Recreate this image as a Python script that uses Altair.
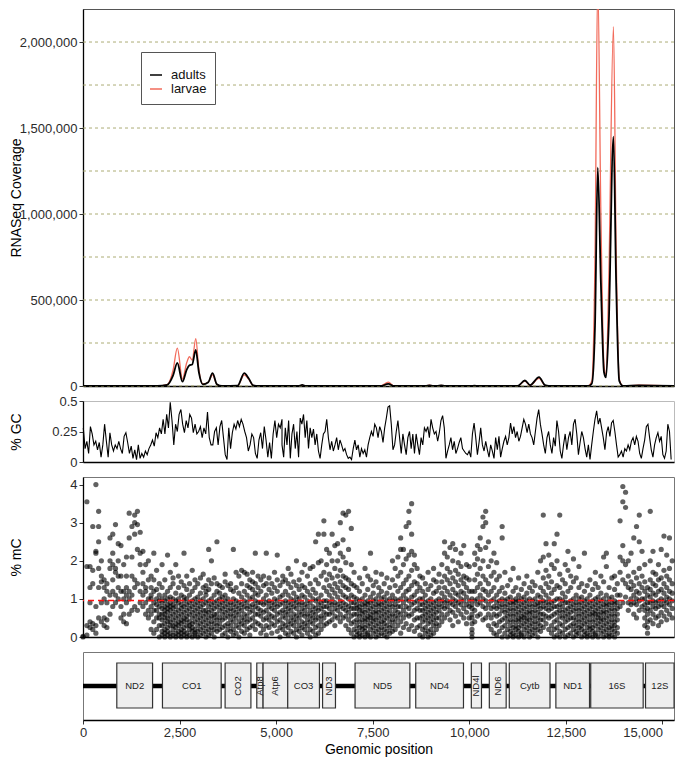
import altair as alt
import pandas as pd

FONT = "Liberation Sans"
GENOME_LEN = 15300
W = 591

# ---------------- RNASeq coverage ----------------
cov_pos = [0, 1925, 2180, 2330, 2442, 2574, 2685, 2756, 2827, 2919, 3000, 3101, 3243, 3354,
           3466, 3598, 4003, 4175, 4287, 4408, 4560, 5574, 5675, 5776, 7702, 7905, 8057,
           8867, 8969, 9070, 9171, 9273, 9375, 10034, 10134, 10234, 11249, 11441, 11573,
           11806, 11958, 12060, 13073, 13174, 13255, 13326, 13407, 13488, 13539, 13610,
           13732, 13802, 13883, 13985, 14390, 15300]
cov_adults = [0, 0, 6000, 60000, 135000, 25000, 95000, 120000, 125000, 210000, 80000, 10000,
              22000, 75000, 10000, 0, 2000, 75000, 45000, 3000, 0, 0, 6000, 0, 0, 12000, 0,
              0, 4000, 0, 0, 4000, 0, 0, 2000, 0, 0, 32000, 5000,
              52000, 5000, 0, 0, 15000, 350000, 1270000, 600000, 80000, 50000, 350000,
              1450000, 600000, 30000, 0, 3000, 0]
cov_larvae = [0, 0, 8000, 90000, 220000, 40000, 135000, 170000, 150000, 275000, 95000, 12000,
              22000, 65000, 9000, 0, 2000, 65000, 40000, 3000, 0, 0, 4000, 0, 0, 22000, 0,
              0, 5000, 0, 0, 3000, 0, 0, 2000, 0, 0, 28000, 4000,
              45000, 4000, 0, 0, 30000, 750000, 2350000, 1000000, 120000, 70000, 600000,
              2090000, 800000, 40000, 0, 5000, 0]
cov_grid = [0, 250000, 500000, 750000, 1000000, 1250000, 1500000, 1750000, 2000000]
cov_ticks = [0, 500000, 1000000, 1500000, 2000000]

# ---------------- % GC (three read-off segments) ----------------
gc_seg1_span = (8, 5152)
gc_seg1 = [0.28, 0.11, 0.17, 0.07, 0.29, 0.23, 0.14, 0.17, 0.10, 0.16, 0.04, 0.14, 0.31, 0.17,
           0.04, 0.24, 0.14, 0.09, 0.14, 0.11, 0.17, 0.11, 0.07, 0.21, 0.24, 0.16, 0.07, 0.13,
           0.03, 0.10, 0.02, 0.14, 0.03, 0.07, 0.04, 0.09, 0.06, 0.11, 0.14, 0.18, 0.13, 0.24,
           0.20, 0.28, 0.23, 0.35, 0.23, 0.39, 0.28, 0.49, 0.34, 0.14, 0.31, 0.25, 0.39, 0.43,
           0.31, 0.24, 0.34, 0.28, 0.39, 0.36, 0.24, 0.31, 0.23, 0.25, 0.29, 0.20, 0.28, 0.23,
           0.41, 0.20, 0.14, 0.14, 0.25, 0.28, 0.14, 0.29, 0.34, 0.20, 0.06, 0.02, 0.28, 0.11,
           0.24, 0.31, 0.27, 0.34, 0.29, 0.35, 0.31, 0.25, 0.20, 0.09, 0.14, 0.23, 0.20, 0.07,
           0.03, 0.18, 0.24, 0.11, 0.29, 0.18, 0.04, 0.16, 0.03, 0.23, 0.34, 0.20, 0.31, 0.28,
           0.35]
gc_seg2_span = (5152, 10296)
gc_seg2 = [0.14, 0.04, 0.28, 0.14, 0.34, 0.03, 0.23, 0.31, 0.11, 0.25, 0.04, 0.36, 0.31, 0.39,
           0.20, 0.34, 0.11, 0.28, 0.20, 0.27, 0.14, 0.23, 0.09, 0.03, 0.14, 0.23, 0.25, 0.35,
           0.20, 0.10, 0.17, 0.09, 0.14, 0.20, 0.10, 0.18, 0.14, 0.09, 0.11, 0.06, 0.03, 0.04,
           0.02, 0.11, 0.18, 0.10, 0.14, 0.04, 0.11, 0.07, 0.10, 0.04, 0.14, 0.20, 0.25, 0.21,
           0.31, 0.28, 0.20, 0.29, 0.25, 0.16, 0.28, 0.36, 0.45, 0.46, 0.31, 0.10, 0.14, 0.25,
           0.34, 0.20, 0.07, 0.23, 0.14, 0.06, 0.20, 0.25, 0.11, 0.23, 0.07, 0.23, 0.14, 0.06,
           0.20, 0.14, 0.28, 0.25, 0.29, 0.20, 0.35, 0.28, 0.23, 0.25, 0.17, 0.24, 0.34, 0.38,
           0.28, 0.03, 0.09, 0.14, 0.20, 0.10, 0.17, 0.07, 0.11, 0.16, 0.20, 0.11, 0.09, 0.07,
           0.06, 0.09, 0.04, 0.23, 0.32, 0.20, 0.06, 0.16, 0.28]
gc_seg3_span = (10340, 15226)
gc_seg3 = [0.14, 0.09, 0.17, 0.10, 0.04, 0.14, 0.09, 0.03, 0.20, 0.10, 0.21, 0.04, 0.11, 0.17,
           0.21, 0.14, 0.20, 0.32, 0.23, 0.29, 0.20, 0.25, 0.17, 0.21, 0.28, 0.35, 0.31, 0.24,
           0.31, 0.23, 0.20, 0.14, 0.25, 0.36, 0.43, 0.31, 0.23, 0.14, 0.07, 0.20, 0.25, 0.14,
           0.07, 0.20, 0.13, 0.34, 0.25, 0.09, 0.03, 0.14, 0.23, 0.10, 0.20, 0.25, 0.14, 0.31,
           0.35, 0.23, 0.06, 0.16, 0.25, 0.20, 0.11, 0.04, 0.14, 0.02, 0.14, 0.25, 0.35, 0.42,
           0.31, 0.36, 0.28, 0.20, 0.10, 0.24, 0.29, 0.21, 0.32, 0.34, 0.25, 0.14, 0.04, 0.06,
           0.09, 0.04, 0.11, 0.09, 0.14, 0.10, 0.17, 0.20, 0.14, 0.21, 0.17, 0.07, 0.03, 0.11,
           0.18, 0.29, 0.31, 0.20, 0.10, 0.04, 0.14, 0.20, 0.24, 0.17, 0.21, 0.06, 0.03, 0.09,
           0.31, 0.25, 0.02]

# ---------------- % mC (columns of CpG sites: position, values) ----------------
mc_cols = [
    (0, [0.0, 0.02]), (101, [0.05, 0.3, 1.85, 3.55]), (182, [0.25, 0.4, 0.9, 1.3, 1.85]),
    (253, [0.2, 0.35, 1.4, 2.9, 1.75]), (334, [0.1, 0.3, 0.8, 2.25, 2.2, 4.0]),
    (405, [0.5, 1.3, 1.8, 2.5, 3.3, 2.9]), (476, [0.4, 0.9, 1.45, 1.6, 2.0]),
    (547, [0.3, 0.5, 1.0, 1.3, 1.5]), (618, [0.25, 0.45, 0.9, 1.2, 1.4]),
    (699, [0.6, 1.1, 1.8, 2.0, 2.6]), (770, [0.8, 1.2, 1.5, 1.9, 2.2, 2.7]),
    (841, [0.9, 1.1, 1.7, 1.8, 2.95]), (912, [1.0, 1.3, 1.6, 2.45, 2.0]),
    (983, [0.5, 0.8, 1.2, 1.6, 2.4]), (1054, [0.4, 0.6, 1.0, 1.2, 1.9]),
    (1125, [0.35, 0.9, 1.1, 1.3, 1.6, 2.1]), (1196, [0.6, 1.0, 1.2, 2.6, 3.25]),
    (1267, [0.7, 1.1, 1.6, 2.9, 2.1]), (1338, [0.8, 1.3, 1.5, 3.0, 3.2, 2.7]),
    (1409, [0.7, 1.4, 2.3, 2.95, 3.3]), (1480, [0.9, 1.2, 1.9, 2.2, 2.75]),
    (1551, [0.8, 1.1, 1.4, 1.7, 2.25]), (1622, [0.6, 0.9, 1.2, 1.3, 1.9]),
    (1693, [0.5, 0.7, 1.0, 1.5, 2.0]), (1764, [0.2, 0.6, 0.8, 1.0, 1.1, 1.3, 1.6]),
    (1834, [0.1, 0.4, 0.7, 0.9, 1.2, 1.5, 2.2]), (1905, [0.2, 0.5, 0.7, 0.85, 1.0, 1.25, 1.75]),
    (1976, [0.0, 0.3, 0.5, 0.6, 0.8, 0.95, 1.1, 1.4]),
    (2047, [0.05, 0.15, 0.3, 0.45, 0.6, 0.75, 0.9, 1.0, 1.3, 1.9]),
    (2118, [0.0, 0.1, 0.2, 0.35, 0.5, 0.6, 0.7, 0.8, 0.95, 1.1, 1.5]),
    (2189, [0.05, 0.15, 0.25, 0.4, 0.5, 0.65, 0.75, 0.85, 1.0, 1.2, 2.15]),
    (2260, [0.0, 0.1, 0.3, 0.4, 0.55, 0.7, 0.8, 0.9, 1.05, 1.3, 1.7]),
    (2331, [0.05, 0.2, 0.3, 0.45, 0.6, 0.75, 0.85, 1.0, 1.4, 1.55]),
    (2402, [0.0, 0.1, 0.25, 0.35, 0.5, 0.65, 0.8, 0.95, 1.15, 1.9]),
    (2473, [0.05, 0.15, 0.3, 0.4, 0.55, 0.7, 0.9, 1.0, 1.3, 1.6]),
    (2544, [0.0, 0.1, 0.2, 0.35, 0.45, 0.6, 0.75, 0.85, 1.1, 1.45]),
    (2615, [0.05, 0.15, 0.25, 0.4, 0.5, 0.65, 0.8, 0.95, 1.05, 1.35, 2.2]),
    (2686, [0.0, 0.1, 0.3, 0.45, 0.55, 0.7, 0.85, 1.0, 1.25, 1.6]),
    (2757, [0.05, 0.2, 0.3, 0.4, 0.6, 0.75, 0.9, 1.1, 1.4]),
    (2828, [0.0, 0.15, 0.25, 0.35, 0.5, 0.65, 0.8, 0.95, 1.2, 1.75]),
    (2899, [0.05, 0.1, 0.2, 0.4, 0.55, 0.7, 0.85, 1.0, 1.3, 1.5]),
    (2970, [0.0, 0.15, 0.3, 0.45, 0.6, 0.75, 0.9, 1.05, 1.4]),
    (3041, [0.05, 0.2, 0.35, 0.5, 0.65, 0.8, 0.95, 1.15, 1.55]),
    (3112, [0.1, 0.25, 0.4, 0.55, 0.7, 0.85, 1.0, 1.3, 1.65]),
    (3183, [0.0, 0.15, 0.3, 0.45, 0.6, 0.7, 0.9, 1.1, 1.2, 1.35]),
    (3254, [0.05, 0.2, 0.35, 0.5, 0.65, 0.8, 0.95, 1.25, 1.5, 2.3]),
    (3325, [0.1, 0.25, 0.4, 0.55, 0.7, 0.85, 1.0, 1.4, 2.0]),
    (3396, [0.0, 0.2, 0.35, 0.5, 0.6, 0.75, 0.9, 1.1, 1.55]),
    (3467, [0.15, 0.3, 0.45, 0.6, 0.8, 0.95, 1.2, 1.4, 2.5]),
    (3538, [0.2, 0.35, 0.5, 0.7, 0.85, 1.0, 1.15, 1.35]),
    (3609, [0.05, 0.25, 0.45, 0.6, 0.75, 0.9, 1.05, 1.3]),
    (3680, [0.1, 0.3, 0.5, 0.65, 0.8, 0.95, 1.1, 1.45, 1.65]),
    (3751, [0.0, 0.2, 0.35, 0.55, 0.7, 0.85, 1.0, 1.35]),
    (3822, [0.15, 0.3, 0.45, 0.6, 0.75, 0.9, 1.25, 1.4]),
    (3893, [0.05, 0.2, 0.4, 0.55, 0.7, 0.85, 1.0, 1.2, 2.3]),
    (3964, [0.1, 0.3, 0.5, 0.65, 0.8, 0.95, 1.3, 1.7]),
    (4035, [0.0, 0.25, 0.4, 0.6, 0.75, 0.9, 1.15, 1.6]),
    (4106, [0.15, 0.35, 0.5, 0.7, 0.85, 1.05, 1.4, 1.75]),
    (4177, [0.1, 0.3, 0.45, 0.6, 0.8, 0.95, 1.2, 1.7]),
    (4248, [0.2, 0.4, 0.55, 0.75, 0.9, 1.1, 1.35, 1.65]),
    (4319, [0.05, 0.25, 0.45, 0.65, 0.8, 1.0, 1.3, 1.5]),
    (4390, [0.3, 0.5, 0.7, 0.85, 1.05, 1.25, 1.45, 1.7]),
    (4461, [0.2, 0.4, 0.6, 0.8, 0.95, 1.15, 1.4, 2.2]),
    (4532, [0.35, 0.6, 0.75, 0.9, 1.1, 1.3, 1.6]),
    (4603, [0.1, 0.3, 0.55, 0.7, 0.9, 1.2, 1.5]),
    (4674, [0.2, 0.45, 0.65, 0.85, 1.0, 1.35, 1.6]),
    (4745, [0.05, 0.3, 0.5, 0.7, 0.9, 1.1, 1.4, 2.2]),
    (4816, [0.25, 0.45, 0.6, 0.8, 0.95, 1.25, 1.55]),
    (4887, [0.1, 0.35, 0.55, 0.75, 0.9, 1.15, 1.4]),
    (4958, [0.3, 0.5, 0.7, 0.85, 1.0, 1.3, 1.7]),
    (5029, [0.15, 0.4, 0.6, 0.8, 0.95, 1.2, 1.5, 2.15]),
    (5100, [0.0, 0.25, 0.45, 0.65, 0.85, 1.05, 1.35]),
    (5171, [0.2, 0.35, 0.55, 0.7, 0.9, 1.1, 1.45, 1.6]),
    (5242, [0.1, 0.3, 0.5, 0.65, 0.8, 0.95, 1.2, 1.5]),
    (5313, [0.05, 0.25, 0.4, 0.6, 0.75, 0.9, 1.1, 1.4, 1.8]),
    (5384, [0.15, 0.35, 0.5, 0.7, 0.85, 1.0, 1.3, 1.65]),
    (5455, [0.1, 0.3, 0.45, 0.6, 0.8, 0.95, 1.15, 1.45]),
    (5526, [0.0, 0.2, 0.4, 0.55, 0.75, 0.9, 1.05, 1.35, 2.0]),
    (5597, [0.15, 0.3, 0.5, 0.65, 0.85, 1.0, 1.25, 1.5]),
    (5668, [0.05, 0.25, 0.4, 0.6, 0.75, 0.9, 1.1, 1.35, 1.7]),
    (5739, [0.2, 0.35, 0.55, 0.7, 0.85, 1.05, 1.3, 1.9]),
    (5810, [0.1, 0.3, 0.45, 0.6, 0.8, 0.95, 1.2, 1.6]),
    (5881, [0.0, 0.2, 0.4, 0.55, 0.7, 0.9, 1.1, 1.4, 1.8]),
    (5952, [0.15, 0.35, 0.5, 0.65, 0.8, 1.0, 1.25, 1.85]),
    (6023, [0.05, 0.25, 0.45, 0.6, 0.75, 0.95, 1.15, 1.5, 2.5]),
    (6094, [0.1, 0.3, 0.5, 0.7, 0.85, 1.0, 1.4, 1.95, 2.7]),
    (6165, [0.2, 0.4, 0.55, 0.75, 0.9, 1.1, 1.6, 2.0]),
    (6236, [0.3, 0.5, 0.65, 0.8, 0.95, 1.3, 1.7, 2.7, 3.05]),
    (6307, [0.35, 0.6, 0.8, 0.95, 1.2, 1.5, 1.9, 2.3]),
    (6378, [0.4, 0.6, 0.75, 0.9, 1.1, 1.35, 1.65, 2.2]),
    (6449, [0.45, 0.65, 0.85, 1.0, 1.25, 1.55, 2.0, 2.7]),
    (6520, [0.3, 0.55, 0.75, 0.9, 1.15, 1.4, 1.8, 2.4]),
    (6591, [0.5, 0.7, 0.85, 1.05, 1.3, 1.6, 2.0, 2.45]),
    (6662, [0.4, 0.6, 0.8, 0.95, 1.2, 1.45, 1.75, 2.2, 3.0]),
    (6733, [0.5, 0.75, 0.9, 1.1, 1.35, 1.6, 2.1, 2.55, 3.25]),
    (6804, [0.3, 0.55, 0.7, 0.85, 1.05, 1.3, 1.55, 1.95, 3.2]),
    (6875, [0.2, 0.45, 0.65, 0.8, 1.0, 1.25, 1.5, 2.3, 3.3]),
    (6946, [0.1, 0.35, 0.55, 0.75, 0.9, 1.1, 1.4, 1.9, 2.85]),
    (7017, [0.0, 0.2, 0.4, 0.6, 0.75, 0.9, 1.05, 1.35, 1.7]),
    (7088, [0.05, 0.15, 0.3, 0.45, 0.6, 0.75, 0.85, 1.0, 1.3]),
    (7159, [0.0, 0.1, 0.25, 0.4, 0.55, 0.7, 0.8, 0.95, 1.2, 1.55]),
    (7230, [0.05, 0.2, 0.3, 0.45, 0.6, 0.7, 0.85, 1.0, 1.4]),
    (7301, [0.0, 0.15, 0.25, 0.4, 0.5, 0.65, 0.8, 0.9, 1.1, 1.8]),
    (7372, [0.05, 0.1, 0.3, 0.45, 0.55, 0.7, 0.85, 0.95, 1.25, 1.6]),
    (7443, [0.0, 0.2, 0.35, 0.5, 0.6, 0.75, 0.9, 1.05, 1.5, 2.2]),
    (7514, [0.1, 0.25, 0.4, 0.5, 0.65, 0.8, 0.95, 1.15, 1.35]),
    (7585, [0.0, 0.15, 0.3, 0.45, 0.6, 0.7, 0.85, 1.0, 1.45, 1.7]),
    (7656, [0.05, 0.2, 0.35, 0.5, 0.65, 0.8, 0.9, 1.1, 1.3]),
    (7727, [0.1, 0.25, 0.4, 0.55, 0.7, 0.85, 1.0, 1.2, 1.65]),
    (7798, [0.05, 0.2, 0.35, 0.45, 0.6, 0.75, 0.9, 1.05, 1.4]),
    (7869, [0.0, 0.15, 0.3, 0.5, 0.65, 0.8, 0.95, 1.15, 1.55]),
    (7940, [0.1, 0.25, 0.4, 0.55, 0.7, 0.85, 1.0, 1.3]),
    (8011, [0.15, 0.3, 0.45, 0.6, 0.8, 0.95, 1.1, 1.5, 2.0]),
    (8082, [0.2, 0.4, 0.55, 0.7, 0.85, 1.0, 1.35, 1.8]),
    (8153, [0.3, 0.5, 0.65, 0.8, 0.95, 1.2, 1.6, 2.1]),
    (8224, [0.1, 0.4, 0.6, 0.8, 1.0, 1.3, 1.7, 2.3, 2.6]),
    (8295, [0.25, 0.5, 0.7, 0.9, 1.1, 1.4, 1.9, 2.3]),
    (8366, [0.35, 0.6, 0.8, 1.0, 1.2, 1.5, 2.05, 2.9]),
    (8437, [0.2, 0.55, 0.75, 0.95, 1.25, 1.6, 2.15, 3.0, 3.3]),
    (8508, [0.3, 0.6, 0.85, 1.05, 1.35, 1.75, 2.25, 2.7, 3.5]),
    (8579, [0.15, 0.45, 0.7, 0.9, 1.1, 1.45, 1.9, 2.15]),
    (8650, [0.25, 0.5, 0.75, 0.95, 1.2, 1.4, 1.8]),
    (8721, [0.05, 0.3, 0.5, 0.7, 0.85, 1.0, 1.3, 1.6]),
    (8792, [0.0, 0.2, 0.4, 0.55, 0.7, 0.85, 1.0, 1.2, 1.55]),
    (8863, [0.1, 0.25, 0.45, 0.6, 0.75, 0.9, 1.1, 1.4]),
    (8934, [0.0, 0.15, 0.35, 0.5, 0.65, 0.8, 0.95, 1.25, 1.7]),
    (9005, [0.05, 0.2, 0.4, 0.55, 0.7, 0.85, 1.0, 1.35]),
    (9076, [0.1, 0.3, 0.45, 0.6, 0.75, 0.9, 1.15, 1.5, 1.8]),
    (9147, [0.2, 0.35, 0.5, 0.65, 0.8, 0.95, 1.2, 1.45]),
    (9218, [0.3, 0.5, 0.7, 0.85, 1.0, 1.3, 1.65]),
    (9289, [0.4, 0.6, 0.8, 0.95, 1.15, 1.45, 1.9]),
    (9360, [0.5, 0.75, 0.9, 1.05, 1.3, 1.6, 2.2, 2.5]),
    (9431, [0.6, 0.8, 0.95, 1.2, 1.5, 1.8, 2.1]),
    (9502, [0.45, 0.7, 0.9, 1.1, 1.4, 1.7, 2.35]),
    (9573, [0.3, 0.65, 0.85, 1.0, 1.25, 1.55, 2.0, 2.45]),
    (9644, [0.55, 0.8, 0.95, 1.15, 1.45, 1.75, 2.3]),
    (9715, [0.4, 0.7, 0.9, 1.1, 1.35, 1.65, 1.95]),
    (9786, [0.6, 0.85, 1.0, 1.2, 1.5, 1.85, 2.2]),
    (9857, [0.5, 0.75, 0.95, 1.15, 1.4, 1.6, 2.4]),
    (9928, [0.35, 0.65, 0.85, 1.05, 1.3, 1.55, 1.9]),
    (9999, [0.5, 0.8, 0.95, 1.2, 1.5, 1.85]),
    (10070, [0.0, 0.1, 0.2, 0.35, 0.5, 0.6, 0.75, 0.85, 1.0, 1.2]),
    (10141, [0.4, 0.7, 0.95, 1.2, 1.5, 1.9, 2.2]),
    (10212, [0.55, 0.85, 1.0, 1.3, 1.65, 2.05, 2.4]),
    (10283, [0.6, 0.9, 1.1, 1.4, 1.8, 2.3, 2.6]),
    (10354, [0.45, 0.8, 1.0, 1.25, 1.6, 2.0, 2.9, 3.15]),
    (10425, [0.5, 0.75, 0.95, 1.2, 1.5, 2.35, 3.0, 3.3]),
    (10496, [0.3, 0.6, 0.85, 1.1, 1.4, 1.85, 2.5]),
    (10567, [0.2, 0.5, 0.75, 0.95, 1.2, 1.6, 2.0]),
    (10638, [0.1, 0.35, 0.6, 0.8, 1.0, 1.3, 1.7, 2.2]),
    (10709, [0.05, 0.3, 0.55, 0.75, 0.9, 1.1, 1.5, 1.95]),
    (10780, [0.15, 0.4, 0.6, 0.8, 0.95, 1.2, 1.6]),
    (10851, [0.0, 0.25, 0.45, 0.7, 0.85, 1.0, 1.3, 2.6, 2.9]),
    (10922, [0.1, 0.3, 0.5, 0.65, 0.8, 0.95, 1.15, 1.7]),
    (10993, [0.0, 0.2, 0.4, 0.55, 0.7, 0.85, 1.0, 1.35]),
    (11064, [0.05, 0.15, 0.3, 0.45, 0.6, 0.75, 0.9, 1.05, 1.5]),
    (11135, [0.0, 0.1, 0.25, 0.4, 0.55, 0.7, 0.85, 0.95, 1.2, 1.8]),
    (11206, [0.05, 0.2, 0.3, 0.45, 0.6, 0.75, 0.9, 1.0, 1.3]),
    (11277, [0.0, 0.15, 0.25, 0.4, 0.5, 0.65, 0.8, 0.95, 1.1, 1.55]),
    (11348, [0.05, 0.1, 0.3, 0.45, 0.55, 0.7, 0.85, 1.0, 1.25]),
    (11419, [0.0, 0.2, 0.35, 0.5, 0.6, 0.75, 0.9, 1.05, 1.4]),
    (11490, [0.1, 0.25, 0.4, 0.5, 0.65, 0.8, 0.95, 1.15, 1.6]),
    (11561, [0.0, 0.15, 0.3, 0.45, 0.6, 0.7, 0.85, 1.0, 1.3]),
    (11632, [0.05, 0.2, 0.35, 0.5, 0.65, 0.8, 0.95, 1.2, 1.45]),
    (11703, [0.1, 0.25, 0.4, 0.55, 0.7, 0.85, 1.0, 1.35]),
    (11774, [0.0, 0.2, 0.35, 0.5, 0.65, 0.8, 0.9, 1.1, 1.7]),
    (11845, [0.15, 0.3, 0.45, 0.6, 0.75, 0.9, 1.05, 1.3, 2.0]),
    (11916, [0.25, 0.45, 0.6, 0.8, 0.95, 1.2, 1.55, 2.1, 3.2]),
    (11987, [0.35, 0.55, 0.75, 0.9, 1.1, 1.4, 1.75, 2.45]),
    (12058, [0.2, 0.5, 0.7, 0.85, 1.0, 1.3, 1.6, 2.15]),
    (12129, [0.1, 0.3, 0.55, 0.75, 0.9, 1.15, 1.45, 1.9]),
    (12200, [0.0, 0.2, 0.4, 0.6, 0.8, 0.95, 1.25, 1.8, 2.45]),
    (12271, [0.05, 0.25, 0.45, 0.65, 0.8, 1.0, 1.35, 2.0, 2.7]),
    (12342, [0.0, 0.15, 0.35, 0.55, 0.7, 0.85, 1.0, 1.3, 1.65, 3.2]),
    (12413, [0.1, 0.3, 0.5, 0.65, 0.8, 0.95, 1.15, 1.5]),
    (12484, [0.0, 0.2, 0.4, 0.55, 0.7, 0.9, 1.05, 1.4, 1.9]),
    (12555, [0.05, 0.25, 0.45, 0.6, 0.75, 0.9, 1.2, 1.75, 2.25]),
    (12626, [0.1, 0.3, 0.5, 0.65, 0.8, 0.95, 1.3, 1.6]),
    (12697, [0.0, 0.2, 0.35, 0.5, 0.7, 0.85, 1.0, 1.45, 2.05]),
    (12768, [0.05, 0.15, 0.3, 0.45, 0.6, 0.75, 0.9, 1.1, 1.55]),
    (12839, [0.1, 0.25, 0.4, 0.55, 0.7, 0.85, 1.0, 1.3, 1.85]),
    (12910, [0.0, 0.2, 0.3, 0.45, 0.6, 0.75, 0.9, 1.05, 1.4]),
    (12981, [0.05, 0.15, 0.35, 0.5, 0.65, 0.8, 0.95, 1.2, 2.2]),
    (13052, [0.0, 0.1, 0.25, 0.4, 0.55, 0.7, 0.85, 1.0, 1.35]),
    (13123, [0.05, 0.2, 0.3, 0.45, 0.6, 0.75, 0.9, 1.1, 1.5]),
    (13194, [0.0, 0.15, 0.25, 0.4, 0.55, 0.65, 0.8, 0.95, 1.25]),
    (13265, [0.05, 0.1, 0.3, 0.45, 0.6, 0.7, 0.85, 1.0, 1.4, 1.7]),
    (13336, [0.0, 0.2, 0.35, 0.5, 0.6, 0.75, 0.9, 1.05, 1.3]),
    (13407, [0.1, 0.25, 0.4, 0.5, 0.65, 0.8, 0.95, 1.15, 1.6]),
    (13478, [0.0, 0.15, 0.3, 0.45, 0.6, 0.7, 0.85, 1.0, 1.45, 2.1]),
    (13549, [0.05, 0.2, 0.35, 0.5, 0.65, 0.8, 0.9, 1.1, 1.85, 2.2]),
    (13620, [0.0, 0.1, 0.25, 0.4, 0.55, 0.7, 0.85, 1.0, 1.3]),
    (13691, [0.05, 0.2, 0.3, 0.45, 0.6, 0.75, 0.9, 1.05, 1.55]),
    (13762, [0.0, 0.15, 0.3, 0.4, 0.55, 0.7, 0.85, 0.95, 1.25, 1.6]),
    (13833, [0.1, 0.25, 0.45, 0.6, 0.75, 0.9, 1.1, 1.4]),
    (13904, [0.8, 1.1, 1.7, 2.1, 3.05]),
    (13975, [0.9, 1.5, 2.0, 2.4, 3.55, 3.95]),
    (14046, [1.05, 1.4, 1.9, 3.4, 3.8]),
    (14117, [0.7, 0.9, 1.3, 1.6, 2.0]),
    (14188, [0.85, 1.0, 1.25, 1.45, 2.2]),
    (14259, [0.6, 0.9, 1.1, 1.35, 1.7, 2.6]),
    (14330, [0.5, 0.85, 1.0, 1.2, 1.55, 2.9]),
    (14401, [0.7, 0.95, 1.15, 1.4, 1.8, 3.2, 2.5]),
    (14472, [0.8, 1.0, 1.3, 1.6, 2.25]),
    (14543, [0.3, 0.5, 0.7, 0.85, 1.0, 1.2, 1.45, 1.9]),
    (14614, [0.1, 0.25, 0.4, 0.6, 0.75, 0.9, 1.1, 1.3]),
    (14685, [0.45, 0.7, 0.9, 1.05, 1.25, 1.5, 2.0, 3.3]),
    (14756, [0.35, 0.6, 0.8, 0.95, 1.15, 1.4, 1.7, 2.25]),
    (14827, [0.5, 0.75, 0.9, 1.1, 1.35, 1.65]),
    (14898, [0.3, 0.55, 0.8, 0.95, 1.2, 1.5, 1.9]),
    (14969, [0.4, 0.65, 0.85, 1.0, 1.25, 1.55, 2.3]),
    (15040, [0.55, 0.8, 0.95, 1.15, 1.4, 1.75, 2.65]),
    (15111, [0.45, 0.7, 0.9, 1.05, 1.3, 1.6, 2.15]),
    (15182, [0.6, 0.85, 1.0, 1.2, 1.5, 1.8, 2.6]),
    (15253, [0.5, 0.75, 0.95, 1.15, 1.4, 2.0]),
]
mc_mean = 0.96

# ---------------- gene annotation ----------------
gene_names = ["ND2", "CO1", "CO2", "Atp8", "Atp6", "CO3", "ND3", "ND5", "ND4", "ND4l",
              "ND6", "Cytb", "ND1", "16S", "12S"]
gene_start = [875, 2057, 3679, 4499, 4662, 5300, 6202, 7043, 8614, 10053, 10519, 11036,
              12242, 13144, 14563]
gene_end = [1801, 3577, 4347, 4662, 5300, 6121, 6536, 8462, 9850, 10316, 10955, 12090,
            13113, 14502, 15302]
x_ticks = [0, 2500, 5000, 7500, 10000, 12500, 15000]

# ---------------- data frames ----------------
n = len(cov_pos)
cov_df = pd.DataFrame({"pos": cov_pos * 2, "cov": cov_larvae + cov_adults,
                       "stage": ["larvae"] * n + ["adults"] * n})


def seg(vals, span):
    a, b = span
    step = (b - a) / (len(vals) - 1)
    return [a + i * step for i in range(len(vals))]


gc_df = pd.DataFrame({"pos": seg(gc_seg1, gc_seg1_span) + seg(gc_seg2, gc_seg2_span)
                      + seg(gc_seg3, gc_seg3_span),
                      "gc": gc_seg1 + gc_seg2 + gc_seg3})
mc_df = pd.DataFrame([{"pos": p, "mc": v} for p, vs in mc_cols for v in vs])
gene_df = pd.DataFrame({"name": gene_names, "start": gene_start, "end": gene_end})

# ---------------- shared styling ----------------
xs = alt.Scale(domain=[0, GENOME_LEN], nice=False, zero=False)
x_hidden = alt.Axis(labels=False, ticks=False, title=None, domainColor="black",
                    domainWidth=1.3, grid=False)


def y_axis(title, values, fmt, h):
    return alt.Axis(values=values, format=fmt, title=title, titleX=-60, titleY=h / 2,
                    titleAngle=270, titleAlign="center", titleBaseline="bottom",
                    titleFontSize=14, titleFontWeight="normal", titleColor="#000000",
                    labelFontSize=13, labelColor="#2b2b2b", tickColor="#333333",
                    tickSize=4, labelPadding=2, domainColor="black", domainWidth=1.3,
                    grid=False)


# ---------------- panel 1 ----------------
H1 = 377
cov_y = alt.Scale(domain=[0, 2192000], nice=False)
color_scale = alt.Scale(domain=["adults", "larvae"], range=["#000000", "#f26b5b"])
legend = alt.Legend(title=" ", titleFontSize=6, titlePadding=2, orient="none",
                    legendX=58, legendY=43, direction="vertical",
                    strokeColor="#555555", fillColor="white", padding=8, symbolType="stroke",
                    symbolSize=144, symbolStrokeWidth=1.5, labelFontSize=13, labelFont=FONT,
                    labelColor="#111111", rowPadding=0, labelOffset=8)

grid = alt.Chart(pd.DataFrame({"g": cov_grid})).mark_rule(
    color="#a3a365", strokeDash=[3, 3], strokeWidth=0.9
).encode(y=alt.Y("g:Q", scale=cov_y, axis=y_axis("RNASeq Coverage", cov_ticks, ",.0f", H1)))

line_base = alt.Chart(cov_df).encode(
    x=alt.X("pos:Q", scale=xs, axis=x_hidden),
    y=alt.Y("cov:Q", scale=cov_y, axis=y_axis("RNASeq Coverage", cov_ticks, ",.0f", H1)),
    color=alt.Color("stage:N", scale=color_scale, legend=legend),
)
line_larvae = line_base.transform_filter("datum.stage == 'larvae'").mark_line(
    interpolate="monotone", strokeWidth=1.3, clip=True)
line_adults = line_base.transform_filter("datum.stage == 'adults'").mark_line(
    interpolate="monotone", strokeWidth=1.8, clip=True)

p1 = alt.layer(grid, line_larvae, line_adults).properties(
    width=W, height=H1, view=alt.ViewBackground(stroke="#555555"))

# ---------------- panel 2 ----------------
H2 = 61
p2 = alt.Chart(gc_df).mark_line(color="black", strokeWidth=1.1).encode(
    x=alt.X("pos:Q", scale=xs, axis=x_hidden),
    y=alt.Y("gc:Q", scale=alt.Scale(domain=[0, 0.5], nice=False),
            axis=y_axis("% GC", [0, 0.25, 0.5], ".2~f", H2)),
).properties(width=W, height=H2, view=alt.ViewBackground(stroke="#bbbbbb"))

# ---------------- panel 3 ----------------
H3 = 160
mc_y = alt.Scale(domain=[0, 4.2], nice=False)
pts = alt.Chart(mc_df).mark_circle(color="#000000", opacity=0.62, size=27).encode(
    x=alt.X("pos:Q", scale=xs, axis=x_hidden),
    y=alt.Y("mc:Q", scale=mc_y, axis=y_axis("% mC", [0, 1, 2, 3, 4], ".0f", H3)),
)
mean_rule = alt.Chart(pd.DataFrame({"m": [mc_mean]})).mark_rule(
    color="#ff1010", strokeDash=[6, 4], strokeWidth=1.6
).encode(y=alt.Y("m:Q", scale=mc_y, axis=y_axis("% mC", [0, 1, 2, 3, 4], ".0f", H3)))
p3 = alt.layer(pts, mean_rule).properties(
    width=W, height=H3, view=alt.ViewBackground(stroke="#777777"))

# ---------------- panel 4 ----------------
H4 = 68
x_full = alt.Axis(values=x_ticks, format=",.0f", title="Genomic position", titleFontSize=14,
                  titleFontWeight="normal", titleColor="#000000", titlePadding=3,
                  labelFontSize=13, labelColor="#2b2b2b", tickColor="#333333", tickSize=4,
                  labelPadding=2, domainColor="black", domainWidth=1.3, grid=False,
                  labelAlign={"condition": {"test": "datum.value >= 15000", "value": "right"},
                              "value": "center"})
backbone = alt.Chart(pd.DataFrame({"s": [0], "e": [GENOME_LEN]})).mark_rule(
    color="black", strokeWidth=4.5
).encode(x=alt.X("s:Q", scale=xs, axis=x_full), x2="e:Q", y=alt.value(34))
boxes = alt.Chart(gene_df).mark_rect(fill="#eeeeee", stroke="#333333", strokeWidth=1.2).encode(
    x=alt.X("start:Q", scale=xs, axis=x_full), x2="end:Q", y=alt.value(11), y2=alt.value(56))
labels = alt.Chart(gene_df).transform_calculate(
    mid="(datum.start + datum.end) / 2",
    rot="(datum.end - datum.start) < 700 ? 270 : 0",
).mark_text(font=FONT, fontSize=9.5, color="#222222").encode(
    x=alt.X("mid:Q", scale=xs, axis=x_full), y=alt.value(34), text="name:N",
    angle=alt.Angle("rot:Q", scale=None))
p4 = alt.layer(backbone, boxes, labels).properties(
    width=W, height=H4, view=alt.ViewBackground(stroke="#777777"))

chart = alt.vconcat(p1, p2, p3, p4, spacing=15, bounds="flush").properties(
    padding={"left": 0, "top": 0, "right": 0, "bottom": 0}
).configure_axis(labelFont=FONT, titleFont=FONT, grid=False).configure_legend(
    labelFont=FONT)

chart.save("out.html", embed_options={"renderer": "svg", "actions": False})
